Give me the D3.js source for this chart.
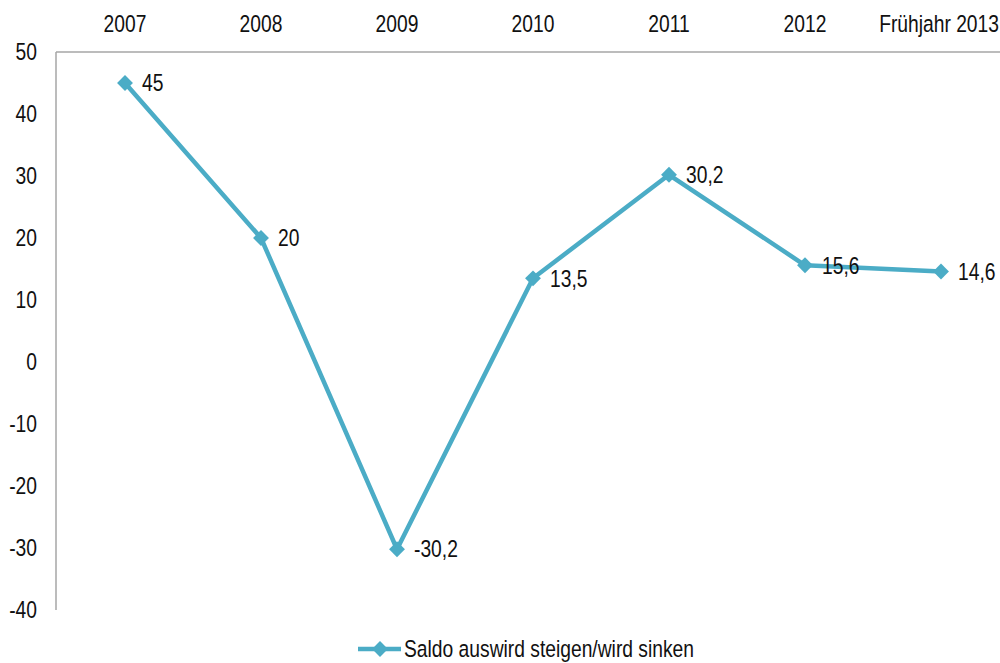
<!DOCTYPE html>
<html>
<head>
<meta charset="utf-8">
<script src="https://cdn.jsdelivr.net/npm/d3@7"></script>
<style>
  html, body { margin: 0; padding: 0; background: #fff; }
  svg { display: block; }
  text { font-family: "Liberation Sans", Arial, sans-serif; fill: #111; }
</style>
</head>
<body>
<svg id="chart" width="1000" height="663"></svg>
<script>
// Categories along the top axis
const categories = ["2007", "2008", "2009", "2010", "2011", "2012", "Frühjahr 2013"];
// Balance values (rise minus fall)
const saldo = [45, 20, -30.2, 13.5, 30.2, 15.6, 14.6];
// Value labels as printed
const valueLabels = ["45", "20", "-30,2", "13,5", "30,2", "15,6", "14,6"];
// Y-axis ticks
const yTicks = [50, 40, 30, 20, 10, 0, -10, -20, -30, -40];
const seriesName = "Saldo auswird steigen/wird sinken";

const color = "#4bacc6";
const axisColor = "#a6a6a6";
const fontSize = 23.5;
const squeeze = 0.82; // condensed lettering

const svg = d3.select("#chart");

const x = d3.scaleBand().domain(categories).range([57, 1009]);
const y = d3.scaleLinear().domain([-40, 50]).range([610, 52]);
const cx = i => x(categories[i]) + x.bandwidth() / 2;

// Places text at (px, py) with horizontally condensed glyphs
function place(sel, px, py) {
  sel.attr("transform", (d, i) => `translate(${px(d, i)},${py(d, i)}) scale(${squeeze},1)`)
    .attr("dy", "0.35em")
    .attr("font-size", fontSize);
  return sel;
}

// Axis lines
svg.append("line")
  .attr("x1", 56).attr("x2", 1000)
  .attr("y1", y(50)).attr("y2", y(50))
  .attr("stroke", axisColor).attr("stroke-width", 1.5);
svg.append("line")
  .attr("x1", 56).attr("x2", 56)
  .attr("y1", y(50)).attr("y2", y(-40))
  .attr("stroke", axisColor).attr("stroke-width", 1.5);

// Category labels on top
svg.append("g").selectAll("text")
  .data(categories)
  .join("text")
  .attr("text-anchor", (d, i) => i === categories.length - 1 ? "end" : "middle")
  .call(place, (d, i) => i === categories.length - 1 ? 999 : cx(i), () => 24)
  .text(d => d);

// Y tick labels
svg.append("g").selectAll("text")
  .data(yTicks)
  .join("text")
  .attr("text-anchor", "end")
  .call(place, () => 37, d => y(d))
  .text(d => d);

// Series line
const line = d3.line()
  .x((d, i) => cx(i))
  .y(d => y(d));

svg.append("path")
  .datum(saldo)
  .attr("d", line)
  .attr("fill", "none")
  .attr("stroke", color)
  .attr("stroke-width", 4.5)
  .attr("stroke-linejoin", "round");

// Diamond markers
const diamond = d3.symbol().type(d3.symbolDiamond2).size(160);
svg.append("g").selectAll("path")
  .data(saldo)
  .join("path")
  .attr("transform", (d, i) => `translate(${cx(i)},${y(d)})`)
  .attr("d", diamond)
  .attr("fill", color);

// Value labels to the right of each point
svg.append("g").selectAll("text")
  .data(saldo)
  .join("text")
  .call(place, (d, i) => cx(i) + 17, d => y(d))
  .text((d, i) => valueLabels[i]);

// Legend
const lg = svg.append("g").attr("transform", "translate(0,649)");
lg.append("line")
  .attr("x1", 358).attr("x2", 401)
  .attr("y1", 0).attr("y2", 0)
  .attr("stroke", color).attr("stroke-width", 4.5);
lg.append("path")
  .attr("transform", "translate(380,0)")
  .attr("d", diamond)
  .attr("fill", color);
lg.append("text")
  .datum(seriesName)
  .call(place, () => 404, () => 0)
  .text(d => d);
</script>
</body>
</html>
